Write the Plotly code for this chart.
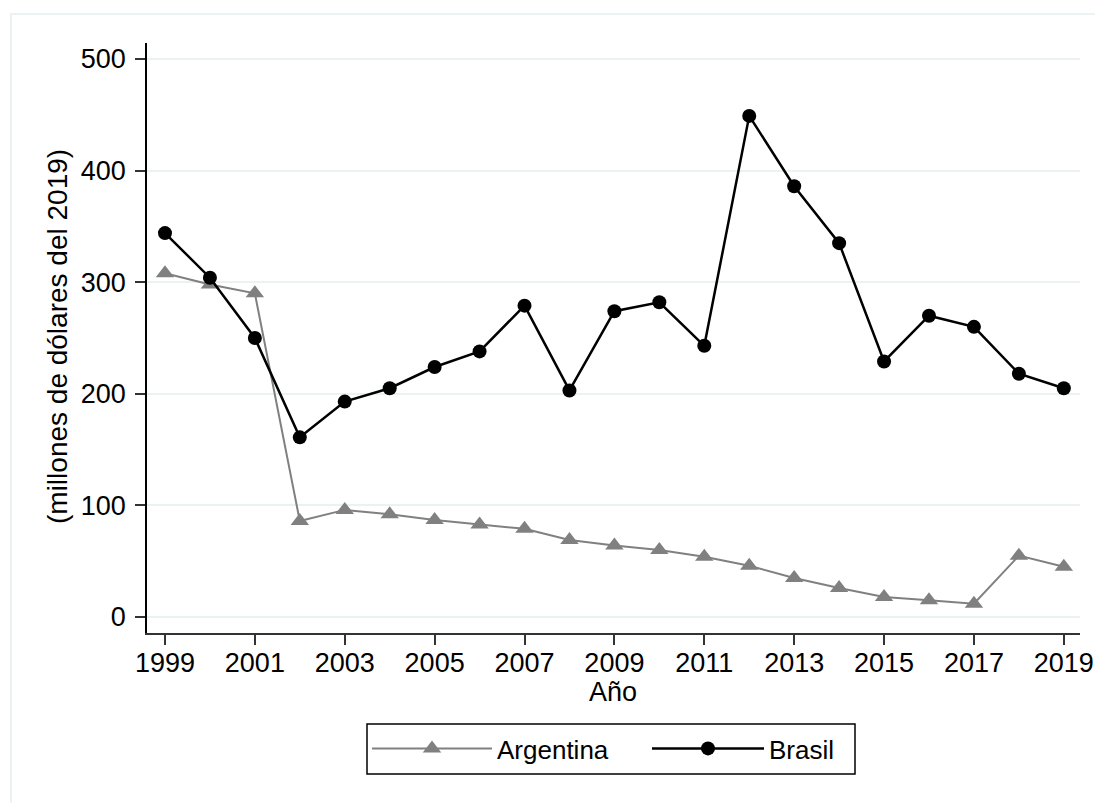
import plotly.graph_objects as go

years = list(range(1999, 2020))
argentina = [308, 298, 290, 86, 96, 92, 87, 83, 79, 69, 64, 60, 54, 46, 35, 26, 18, 15, 12, 55, 45]
brasil = [344, 304, 250, 161, 193, 205, 224, 238, 279, 203, 274, 282, 243, 449, 386, 335, 229, 270, 260, 218, 205]
x_ticks = list(range(1999, 2020, 2))
y_ticks = [0, 100, 200, 300, 400, 500]

W, H = 1095, 803
# plot area in screen pixels
SX0, SX1, SY0, SY1 = 147, 1080, 43, 633
L, R, T, B = SX0, W - SX1, SY0, H - SY1
pw, ph = W - L - R, H - T - B

def px(sx):
    return (sx - L) / pw

def py(sy):
    return (H - B - sy) / ph

FONT = "Liberation Sans, Arial, sans-serif"
GRID = "#EAF2F3"

fig = go.Figure()
fig.add_trace(go.Scatter(
    x=years, y=argentina, name="Argentina", mode="lines+markers",
    line=dict(color="#808080", width=2),
    marker=dict(symbol="triangle-up", size=16, color="#808080"),
    legend="legend",
))
fig.add_trace(go.Scatter(
    x=years, y=brasil, name="Brasil", mode="lines+markers",
    line=dict(color="#000000", width=2.5),
    marker=dict(symbol="circle", size=14, color="#000000"),
    legend="legend2",
))

legend_common = dict(
    orientation="h", y=py(725), xanchor="left", yanchor="top",
    borderwidth=0, bgcolor="rgba(0,0,0,0)",
    font=dict(size=26),
)

fig.update_layout(
    width=W, height=H,
    margin=dict(l=L, r=R, t=T, b=B, autoexpand=False),
    paper_bgcolor="white", plot_bgcolor="white",
    font=dict(family=FONT, size=27, color="#000000"),
    showlegend=True,
    legend=dict(x=px(367), itemwidth=120, **legend_common),
    legend2=dict(x=px(647), itemwidth=112, **legend_common),
    shapes=[
        dict(type="rect", xref="paper", yref="paper",
             x0=px(11), x1=px(1120), y0=py(830), y1=py(14),
             line=dict(color=GRID, width=2), fillcolor="rgba(0,0,0,0)", layer="below"),
        dict(type="rect", xref="paper", yref="paper",
             x0=px(367), x1=px(855), y0=py(774), y1=py(724),
             line=dict(color="#000000", width=1.5), fillcolor="white", layer="below"),
    ],
    annotations=[
        dict(text="Año", xref="paper", yref="paper", x=px(613), y=py(692),
             xanchor="center", yanchor="middle", showarrow=False,
             font=dict(size=27)),
        dict(text="(millones de dólares del 2019)", xref="paper", yref="paper",
             x=px(57), y=py(337), xanchor="center", yanchor="middle",
             textangle=-90, showarrow=False, font=dict(size=28)),
    ],
)
fig.update_xaxes(
    range=[1998.6, 2019.36], tickvals=x_ticks, ticktext=[str(v) for v in x_ticks],
    showline=True, linecolor="#333333", linewidth=1.5,
    ticks="outside", ticklen=10, tickwidth=1.5, tickcolor="#333333",
    showgrid=False, zeroline=False, tickfont=dict(size=27),
    ticklabeloverflow="allow", ticklabelstandoff=-5,
)
fig.update_yaxes(
    range=[-14.3, 514.3], tickvals=y_ticks,
    showline=True, linecolor="#000000", linewidth=1.5,
    ticks="outside", ticklen=10, tickwidth=1.5, tickcolor="#333333",
    showgrid=True, gridcolor=GRID, gridwidth=2, zeroline=False,
    tickfont=dict(size=27), ticklabelstandoff=4,
)

fig.write_html("out.html", config={"displayModeBar": False},
               post_script="document.body.style.margin='0';")
